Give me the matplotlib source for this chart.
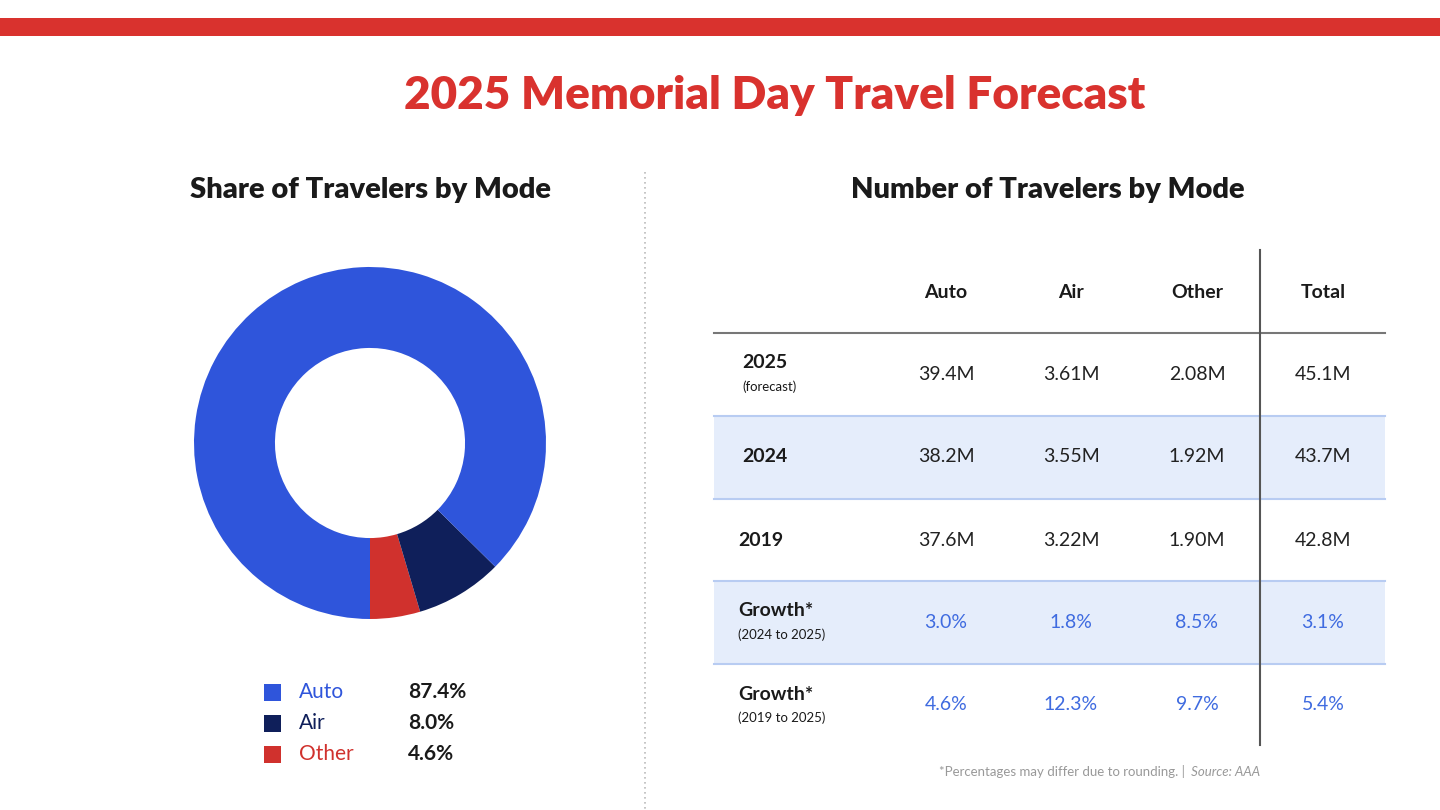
import matplotlib
matplotlib.use("Agg")
import matplotlib.pyplot as plt
from matplotlib.patches import Rectangle

modes = ["Auto", "Air", "Other"]
shares = [87.4, 8.0, 4.6]
share_labels = ["87.4%", "8.0%", "4.6%"]
columns = ["Auto", "Air", "Other", "Total"]
row_titles = ["2025", "2024", "2019", "Growth*", "Growth*"]
row_subs = ["(forecast)", "", "", "(2024 to 2025)", "(2019 to 2025)"]
table_values = [
    ["39.4M", "3.61M", "2.08M", "45.1M"],
    ["38.2M", "3.55M", "1.92M", "43.7M"],
    ["37.6M", "3.22M", "1.90M", "42.8M"],
    ["3.0%", "1.8%", "8.5%", "3.1%"],
    ["4.6%", "12.3%", "9.7%", "5.4%"],
]

C_AUTO, C_AIR, C_OTHER = "#2F55DB", "#0F1F5A", "#D0312D"
RED = "#D9322E"
FONT = "Lato"

fig = plt.figure(figsize=(14.4, 8.1), dpi=100)
ax = fig.add_axes([0, 0, 1, 1])
ax.set_xlim(0, 1440); ax.set_ylim(810, 0); ax.axis("off")

ax.add_patch(Rectangle((0, 18), 1440, 18, color=RED, lw=0))
ax.text(775, 95, "2025 Memorial Day Travel Forecast", color=RED, fontsize=33,
        fontweight="heavy", ha="center", va="center", family=FONT)
ax.text(370, 190, "Share of Travelers by Mode", fontsize=21, fontweight="heavy",
        ha="center", va="center", color="#1a1a1a", family=FONT)
ax.text(1048, 190, "Number of Travelers by Mode", fontsize=21, fontweight="heavy",
        ha="center", va="center", color="#1a1a1a", family=FONT)
ax.plot([645, 645], [172, 810], color="#bbbbbb", lw=1.2, ls=(0, (1, 2)))

# donut
R = 176
dax = fig.add_axes([(370 - R) / 1440, 1 - (443 + R) / 810, 2 * R / 1440, 2 * R / 810])
dax.pie([shares[2], shares[1], shares[0]], colors=[C_OTHER, C_AIR, C_AUTO],
        startangle=270, counterclock=True, wedgeprops=dict(width=0.46, linewidth=0))
dax.set_xlim(-1, 1); dax.set_ylim(-1, 1)
dax.set_aspect("equal")

leg_colors = [C_AUTO, C_AIR, C_OTHER]
for i, (m, l) in enumerate(zip(modes, share_labels)):
    y = 692 + i * 31
    ax.add_patch(Rectangle((264, y - 8), 17, 17, color=leg_colors[i], lw=0))
    ax.text(299, y, m, fontsize=15, color=leg_colors[i], va="center", family=FONT)
    ax.text(408, y, l, fontsize=15, fontweight="bold", color="#1a1a1a", va="center", family=FONT)

# table
col_x = [946, 1071, 1197, 1323]
for c, x in zip(columns, col_x):
    ax.text(x, 293, c, fontsize=14, fontweight="bold", ha="center", va="center", color="#1a1a1a", family=FONT)
ax.plot([714, 1385], [333, 333], color="#777777", lw=1.5)
row_y = [374, 457, 540, 622, 705]
for r, y in enumerate(row_y):
    if r in (1, 3):
        ax.add_patch(Rectangle((714, y - 41), 671, 83, color="#E5EDFB", lw=0, zorder=0))
    if r > 0:
        ax.plot([714, 1385], [y - 41, y - 41], color="#B8CCF2", lw=1.5)
    if row_subs[r]:
        ax.text(742 if r == 0 else 738, y - 11, row_titles[r], fontsize=14, fontweight="bold",
                va="center", color="#1a1a1a", family=FONT)
        ax.text(742 if r == 0 else 738, y + 13, row_subs[r], fontsize=9.5, va="center",
                color="#1a1a1a", family=FONT)
    else:
        ax.text(738 if r == 2 else 742, y, row_titles[r], fontsize=14, fontweight="bold",
                va="center", color="#1a1a1a", family=FONT)
    for x, v in zip(col_x, table_values[r]):
        ax.text(x, y, v, fontsize=14, ha="center", va="center",
                color="#3F6BE0" if r >= 3 else "#222222", family=FONT)
ax.plot([1260, 1260], [250, 745], color="#555555", lw=1.5)
ax.text(1188, 772, "*Percentages may differ due to rounding. | ", fontsize=9.5, color="#999999",
        ha="right", va="center", family=FONT)
ax.text(1188, 772, " Source: AAA", fontsize=9.5, color="#999999", ha="left", va="center",
        style="italic", family=FONT)

fig.savefig("out.png", dpi=100, facecolor="white")
